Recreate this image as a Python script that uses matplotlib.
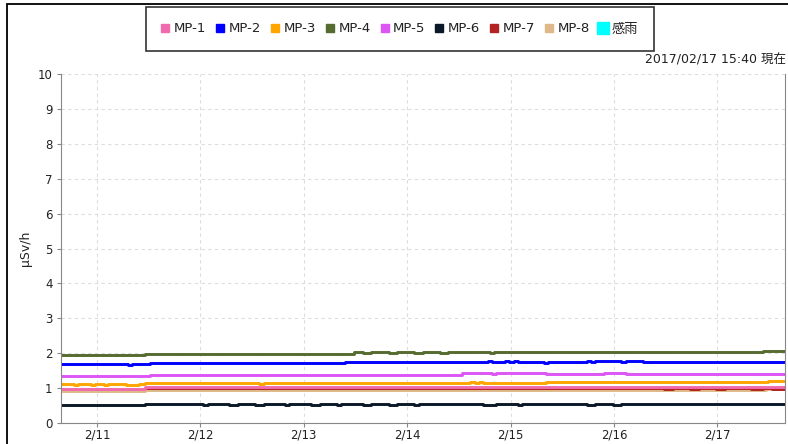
import datetime as dt
import matplotlib
matplotlib.use("Agg")
import matplotlib.pyplot as plt
from matplotlib.lines import Line2D
from matplotlib.patches import Rectangle

plt.rcParams['font.family'] = ['DejaVu Sans', 'Noto Sans CJK JP']

# ---- data (hours after 2017/02/10 15:40, value in uSv/h), step series ----
start = dt.datetime(2017, 2, 10, 15, 40)
end = dt.datetime(2017, 2, 17, 15, 40)

series_names = ["MP-1", "MP-2", "MP-3", "MP-4", "MP-5", "MP-6", "MP-7", "MP-8", "感雨"]
series_colors = ["#F06AAE", "#0000FF", "#FFA500", "#556B2F", "#DD55F5",
                 "#0A1828", "#B22222", "#DEB887", "#00FFFF"]

mp1_h = [0, 19.5, 168]
mp1_v = [0.98, 1.02, 1.02]

mp2_h = [0, 15.5, 16.5, 20.7, 66, 67, 90.5, 92, 99, 100, 103, 104, 105, 106, 112, 113, 114, 122,
         123, 124, 130, 131, 135, 136, 168]
mp2_v = [1.70, 1.67, 1.70, 1.73, 1.74, 1.76, 1.74, 1.76, 1.77, 1.75, 1.77, 1.75, 1.77, 1.74, 1.72,
         1.75, 1.74, 1.77, 1.75, 1.77, 1.75, 1.77, 1.76, 1.75, 1.76]

mp3_h = [0, 3, 4, 7, 8, 10, 11, 15, 18, 19.5, 46, 47, 67, 95, 96, 97, 98, 112.5, 164, 168]
mp3_v = [1.12, 1.10, 1.12, 1.10, 1.12, 1.10, 1.12, 1.10, 1.11, 1.14, 1.11, 1.14, 1.14, 1.18, 1.15,
         1.18, 1.15, 1.18, 1.21, 1.21]

mp4_h = [0, 19.5, 67.9, 70, 72, 76, 78, 82, 84, 88, 89.7, 99.5, 100.5, 163, 168]
mp4_v = [1.95, 1.99, 2.03, 2.01, 2.03, 2.02, 2.03, 2.01, 2.03, 2.02, 2.03,
         2.00, 2.03, 2.07, 2.07]

mp5_h = [0, 20.7, 93, 100, 101, 112.5, 126, 131, 168]
mp5_v = [1.36, 1.38, 1.42, 1.40, 1.42, 1.40, 1.42, 1.40, 1.41]

mp6_h = [0, 19.5, 33, 34, 39, 41, 45, 47, 52, 53, 58, 60, 64, 65, 70, 72, 76, 78,
         82, 83, 98, 101, 106, 107, 122, 124, 128, 130, 168]
mp6_v = [0.52, 0.55, 0.53, 0.55, 0.53, 0.55, 0.53, 0.55, 0.53, 0.55, 0.53, 0.55, 0.53, 0.55,
         0.53, 0.55, 0.53, 0.55, 0.53, 0.55, 0.53, 0.55, 0.53, 0.55, 0.53, 0.55, 0.53, 0.55, 0.55]

mp7_h = [19.5, 140, 142, 146, 148, 152, 154, 160, 163, 165, 168]
mp7_v = [0.99, 0.97, 0.99, 0.97, 0.99, 0.97, 0.99, 0.96, 0.99, 0.97, 0.99]

mp8_h = [0, 19.5, 163.5, 168]
mp8_v = [0.93, 0.95, 0.97, 0.97]

rain_h = []
rain_v = []

data_h = [mp1_h, mp2_h, mp3_h, mp4_h, mp5_h, mp6_h, mp7_h, mp8_h, rain_h]
data_v = [mp1_v, mp2_v, mp3_v, mp4_v, mp5_v, mp6_v, mp7_v, mp8_v, rain_v]

tick_days = [dt.datetime(2017, 2, d) for d in range(11, 18)]
tick_labels = ["2/11", "2/12", "2/13", "2/14", "2/15", "2/16", "2/17"]
y_ticks = list(range(0, 11))

# ---- figure ----
fig = plt.figure(figsize=(7.88, 4.44), dpi=100)
ax = fig.add_axes([61 / 788, 21 / 444, 724 / 788, 349 / 444])

draw_order = [7, 6, 0, 1, 2, 3, 4, 5]
for i in draw_order:
    times = [start + dt.timedelta(hours=h) for h in data_h[i]]
    ax.plot(times, data_v[i], drawstyle="steps-post", color=series_colors[i], lw=2.1,
            solid_capstyle="butt")

ax.set_xlim(start, end)
ax.set_ylim(0, 10)
ax.set_xticks(tick_days)
ax.set_xticklabels(tick_labels)
ax.set_yticks(y_ticks)
ax.tick_params(axis="both", labelsize=8.5, color="#888888", length=3, pad=3,
               labelcolor="#222222")
ax.tick_params(axis="x", pad=1)
for s in ["left", "bottom", "right"]:
    ax.spines[s].set_color("#888888")
ax.spines["top"].set_visible(False)
ax.grid(True, color="#DDDDDD", ls=(0, (3, 3)), lw=0.8)
ax.set_axisbelow(True)
ax.set_ylabel("µSv/h", fontsize=9, color="#222222")
ax.yaxis.set_label_coords(-0.040, 0.5)

# legend
handles = [Line2D([], [], ls="none", marker="s", markersize=5.5, markerfacecolor=c,
                  markeredgecolor=c) for c in series_colors]
handles[-1] = Line2D([], [], ls="none", marker="s", markersize=8, markerfacecolor="#00FFFF",
                     markeredgecolor="#00FFFF")
leg = fig.legend(handles, series_names, loc="center", bbox_to_anchor=(400 / 788, 1 - 29 / 444),
                 ncol=9, frameon=True, fancybox=False, edgecolor="black",
                 handlelength=0.6, handletextpad=0.35, columnspacing=0.75, borderpad=1.15,
                 prop={"family": ["DejaVu Sans", "Noto Sans CJK JP"], "size": 9.5})
leg.get_frame().set_linewidth(1.2)
for t in leg.get_texts():
    t.set_color("#222222")

fig.text(786 / 788, 1 - 60 / 444, "2017/02/17 15:40 現在", ha="right", va="center",
         fontsize=9, color="#222222", family=["DejaVu Sans", "Noto Sans CJK JP"])

# outer frame
fig.add_artist(Rectangle((7 / 788, -0.1), 1.2, 1 - 4 / 444 + 0.1, transform=fig.transFigure,
                         fill=False, edgecolor="black", lw=1.3))

fig.savefig("out.png", dpi=100)
